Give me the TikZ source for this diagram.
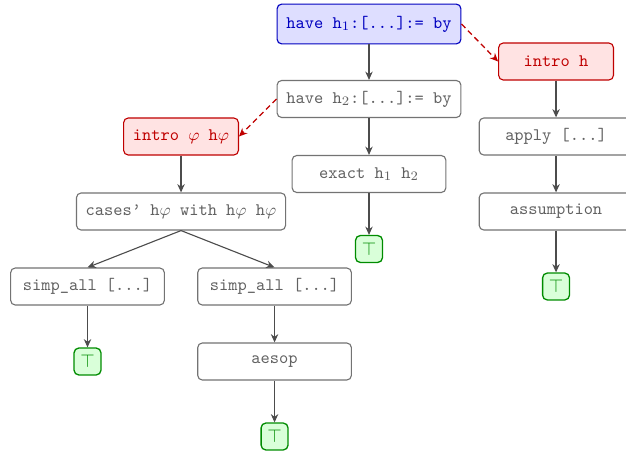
\documentclass[tikz,border=0pt]{standalone}
\usepackage{amssymb}
\usetikzlibrary{positioning,arrows.meta}
\tikzset{
  tactic/.style={rectangle, rounded corners=2.5pt, draw=black!55, fill=white, line width=0.6pt,
                 text=black!62, font=\fontsize{9.5pt}{11pt}\selectfont\ttfamily, minimum width=83pt,
                 minimum height=20pt, inner xsep=5pt},
  active/.style={draw=blue!75!black, fill=blue!13, text=blue!75!black, minimum width=0pt, minimum height=21.5pt},
  branch/.style={draw=red!75!black, fill=red!11, text=red!75!black, minimum width=62pt},
  done/.style={rectangle, rounded corners=2.5pt, draw=green!55!black, fill=green!15, text=green!55!black,
               line width=0.7pt, minimum size=14.5pt, inner sep=0pt},
  next/.style={-{Stealth[length=4.5pt,width=4pt]}, draw=black!70, line width=0.6pt},
  split/.style={-{Stealth[length=4.5pt,width=4pt]}, draw=red!75!black, line width=0.7pt, densely dashed},
}
\begin{document}
\begin{tikzpicture}[x=0.54pt, y=-0.54pt, node distance=40.5pt, on grid]
  \useasboundingbox (0,0) rectangle (626,453);

  % main goal
  \node[tactic, active] (have1) at (369,24) {have h$_1$:[...]:= by};
  \node[tactic] (have2) [below=of have1] {have h$_2$:[...]:= by};
  \node[tactic] (exact) [below=of have2] {exact h$_1$ h$_2$};
  \node[done] (top1) [below=of exact] {$\top$};

  % side goal of h1
  \node[tactic, branch] (introh) [below right=20.25pt and 101pt of have1] {intro h};
  \node[tactic] (apply) [below=of introh] {apply [...]};
  \node[tactic] (assum) [below=of apply] {assumption};
  \node[done] (top4) [below=of assum] {$\top$};

  % side goal of h2
  \node[tactic, branch] (introphi) [below left=20.25pt and 101.5pt of have2] {intro $\varphi$ h$\varphi$};
  \node[tactic] (cases) [below=of introphi] {cases\textquoteright{} h$\varphi$ with h$\varphi$ h$\varphi$};
  \node[tactic] (simp1) [below left=40.5pt and 50.5pt of cases] {simp\_all [...]};
  \node[tactic] (simp2) [below right=40.5pt and 50.5pt of cases] {simp\_all [...]};
  \node[done] (top2) [below=of simp1] {$\top$};
  \node[tactic] (aesop) [below=of simp2] {aesop};
  \node[done] (top3) [below=of aesop] {$\top$};

  \draw[next] (have1) -- (have2);
  \draw[next] (have2) -- (exact);
  \draw[next] (exact) -- (top1);
  \draw[split] (have1.east) -- (introh.west);
  \draw[next] (introh) -- (apply);
  \draw[next] (apply) -- (assum);
  \draw[next] (assum) -- (top4);
  \draw[split] (have2.west) -- (introphi.east);
  \draw[next] (introphi) -- (cases);
  \draw[next] (cases.south) -- (simp1.north);
  \draw[next] (cases.south) -- (simp2.north);
  \draw[next] (simp1) -- (top2);
  \draw[next] (simp2) -- (aesop);
  \draw[next] (aesop) -- (top3);
\end{tikzpicture}
\end{document}
